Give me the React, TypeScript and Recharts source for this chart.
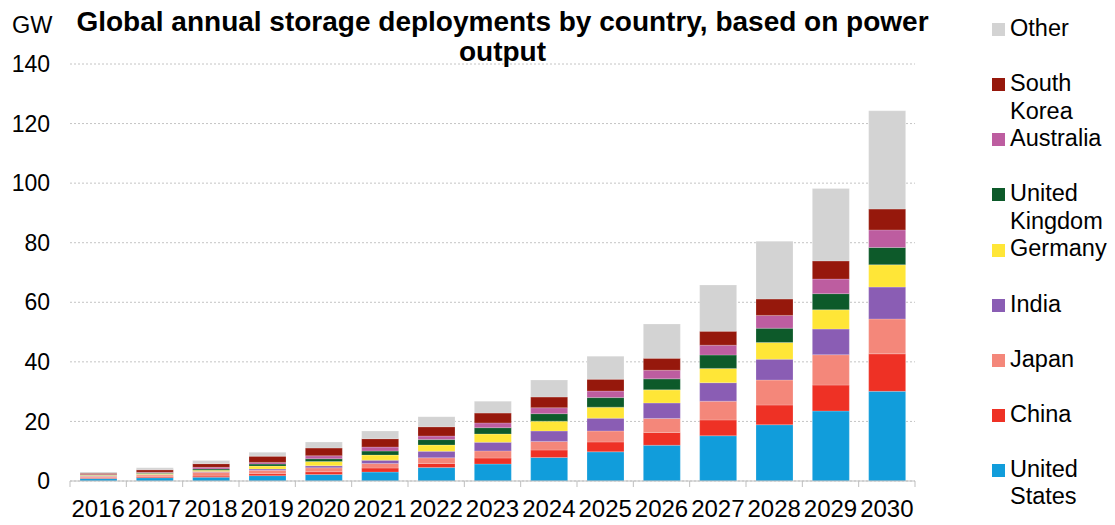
import React from "react";
import { BarChart, Bar, XAxis, YAxis, CartesianGrid } from "recharts";

const years = ["2016", "2017", "2018", "2019", "2020", "2021", "2022", "2023", "2024", "2025", "2026", "2027", "2028", "2029", "2030"];

const unitedStates = [0.8, 1.1, 1.3, 1.8, 2.2, 3.0, 4.5, 5.7, 7.9, 9.8, 12.0, 15.2, 18.9, 23.5, 30.1];
const china = [0.3, 0.35, 0.35, 0.67, 0.9, 1.35, 1.4, 2.0, 2.5, 3.3, 4.3, 5.3, 6.6, 8.7, 12.6];
const japan = [0.5, 0.55, 1.3, 1.1, 1.35, 1.55, 1.9, 2.4, 2.9, 3.7, 4.7, 6.3, 8.4, 10.2, 11.7];
const india = [0.1, 0.2, 0.2, 0.45, 0.67, 1.1, 2.2, 2.9, 3.5, 4.3, 5.2, 6.2, 7.0, 8.6, 10.7];
const germany = [0.2, 0.35, 0.45, 1.0, 1.45, 1.7, 2.1, 2.8, 3.3, 3.7, 4.4, 4.8, 5.6, 6.5, 7.5];
const unitedKingdom = [0.1, 0.2, 0.45, 0.67, 0.9, 1.35, 1.8, 2.1, 2.5, 3.2, 3.7, 4.5, 4.8, 5.4, 5.8];
const australia = [0.2, 0.2, 0.56, 0.56, 1.0, 1.35, 1.2, 1.6, 2.0, 2.2, 2.9, 3.3, 4.3, 4.9, 5.9];
const southKorea = [0.4, 0.8, 1.2, 2.1, 2.6, 2.8, 3.1, 3.3, 3.6, 4.0, 4.0, 4.7, 5.5, 6.1, 7.0];
const other = [0.4, 0.67, 1.1, 1.3, 2.0, 2.6, 3.4, 4.0, 5.7, 7.7, 11.5, 15.5, 19.4, 24.3, 33.0];

const yTicks = [0, 20, 40, 60, 80, 100, 120, 140];

// bottom-to-top stacking order
const series = [
  { key: "us", name: "United States", values: unitedStates, color: "#119ddb" },
  { key: "cn", name: "China", values: china, color: "#ee3125" },
  { key: "jp", name: "Japan", values: japan, color: "#f4877a" },
  { key: "in", name: "India", values: india, color: "#8a5db4" },
  { key: "de", name: "Germany", values: germany, color: "#ffe637" },
  { key: "uk", name: "United Kingdom", values: unitedKingdom, color: "#0d5a2a" },
  { key: "au", name: "Australia", values: australia, color: "#bd5da0" },
  { key: "kr", name: "South Korea", values: southKorea, color: "#96180c" },
  { key: "ot", name: "Other", values: other, color: "#d3d3d3" },
];

const data = years.map((year, i) => {
  const row: any = { year };
  series.forEach((s) => (row[s.key] = s.values[i]));
  return row;
});

const W = 1115;
const H = 525;
const LEFT = 70;
const RIGHT = 915;
const TOP = 64;
const BOTTOM = 481;
const FONT = "'Liberation Sans', Arial, sans-serif";

const half = (RIGHT - LEFT) / years.length / 2;

const XTick = (props: any) => {
  const { x, y, payload, index } = props;
  const axisY = y - 8;
  return (
    <g>
      <line x1={x - half} x2={x - half} y1={axisY} y2={axisY + 6} stroke="#bfbfbf" />
      {index === years.length - 1 && (
        <line x1={x + half} x2={x + half} y1={axisY} y2={axisY + 6} stroke="#bfbfbf" />
      )}
      <text x={x} y={axisY + 36} textAnchor="middle" fontSize={24} fill="#000" fontFamily={FONT}>
        {payload.value}
      </text>
    </g>
  );
};

export default function App() {
  const legendItems = [...series].reverse();
  return (
    <div style={{ position: "absolute", left: 0, top: 0, width: W, height: H, background: "#fff", fontFamily: FONT }}>
      <BarChart
        width={W}
        height={H}
        data={data}
        margin={{ top: TOP, right: W - RIGHT, bottom: 0, left: 0 }}
        barSize={37}
      >
        <CartesianGrid vertical={false} stroke="#c4c4c4" strokeDasharray="2 2" />
        <XAxis
          dataKey="year"
          axisLine={{ stroke: "#bfbfbf" }}
          tickLine={false}
          tick={<XTick />}
          interval={0}
          height={H - BOTTOM}
        />
        <YAxis
          width={LEFT}
          domain={[0, 140]}
          ticks={yTicks}
          axisLine={false}
          tickLine={false}
          tickMargin={14}
          tick={{ fontSize: 23, fill: "#000", fontFamily: FONT }}
        />
        {series.map((s) => (
          <Bar
            key={s.key}
            dataKey={s.key}
            name={s.name}
            stackId="a"
            fill={s.color}
            stroke="#ffffff"
            strokeOpacity={0.2}
            strokeWidth={1}
            isAnimationActive={false}
          />
        ))}
      </BarChart>

      <div style={{ position: "absolute", left: 12, top: 14, fontSize: 23.5, lineHeight: 1, color: "#000" }}>GW</div>

      <div
        style={{
          position: "absolute",
          left: 40,
          width: 925,
          top: 6.5,
          textAlign: "center",
          fontSize: 28,
          fontWeight: "bold",
          lineHeight: "30px",
          color: "#000",
        }}
      >
        Global annual storage deployments by country, based on power
        <br />
        output
      </div>

      {legendItems.map((s, i) => (
        <div
          key={s.key}
          style={{ position: "absolute", left: 992, top: 15 + i * 55.1, display: "flex", alignItems: "flex-start" }}
        >
          <div style={{ width: 13, height: 13, background: s.color, marginTop: 8.2, marginRight: 5 }} />
          <div style={{ width: 104, fontSize: 23.5, lineHeight: "27.5px", color: "#000" }}>{s.name}</div>
        </div>
      ))}
    </div>
  );
}
